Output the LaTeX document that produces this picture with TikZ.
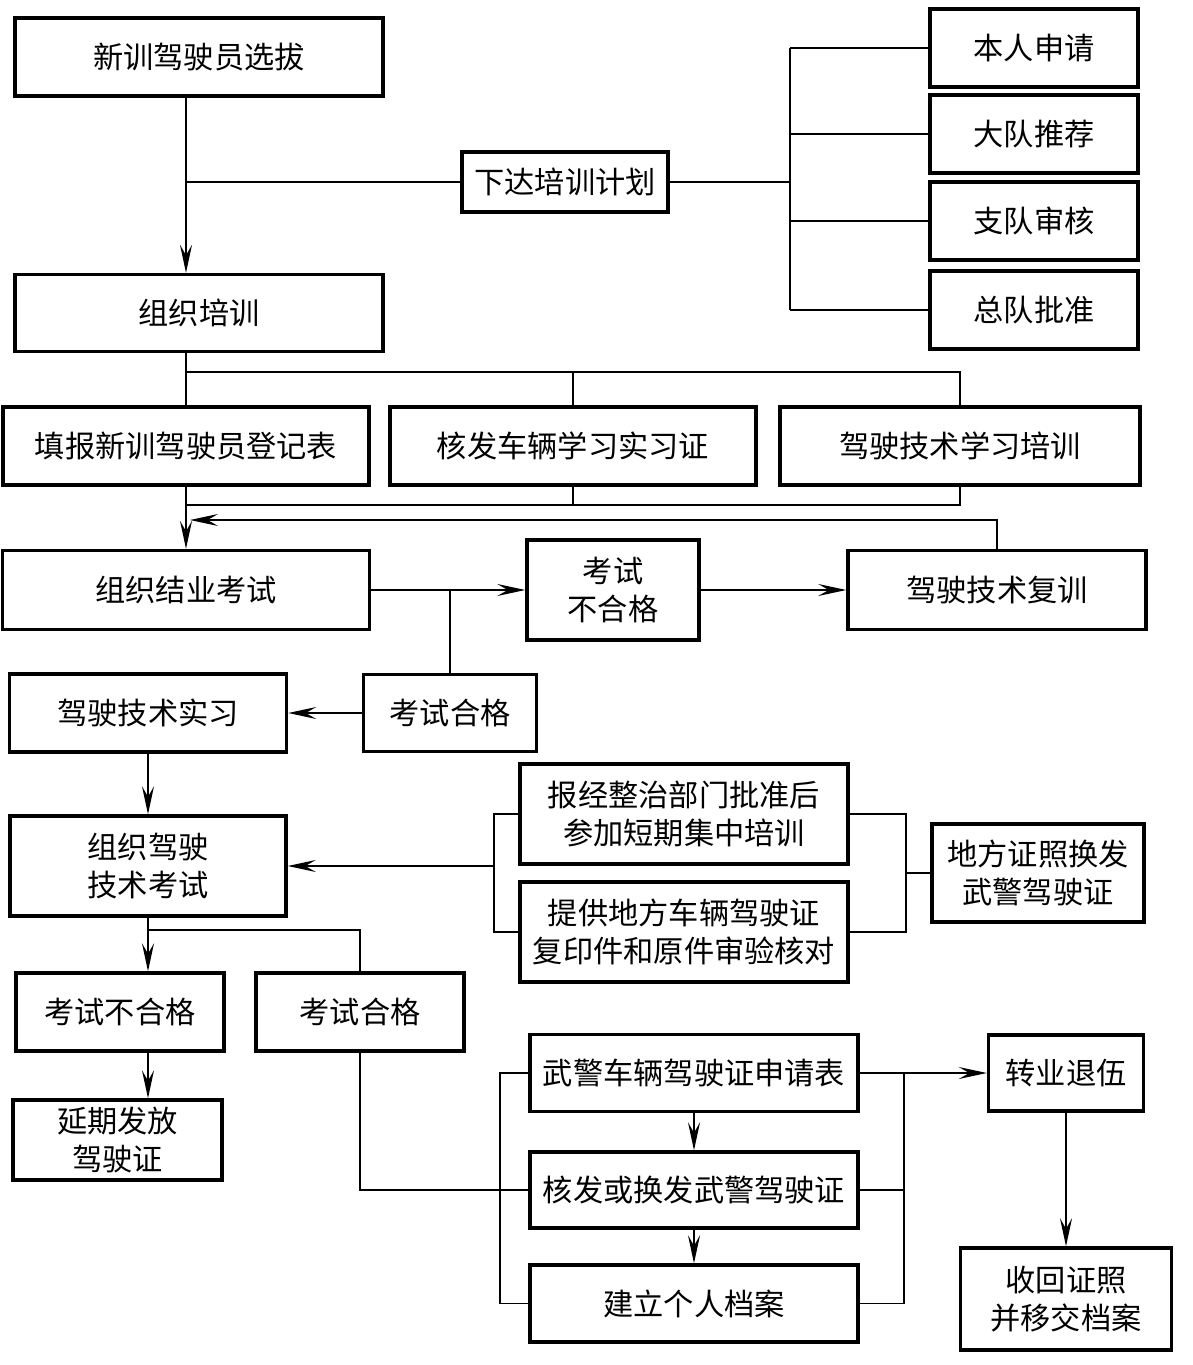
\documentclass[tikz,border=0pt]{standalone}
\usepackage{fontspec}
\newfontfamily\cjk{Noto Sans CJK SC}
\usetikzlibrary{arrows.meta}

\begin{document}
\begin{tikzpicture}
[x=0.025cm,y=-0.025cm,>={Stealth[length=7mm,width=3mm,inset=2.6mm]},
box/.style={draw,line width=2.4pt,inner sep=0pt,align=center,font=\cjk\fontsize{21.5}{26.5}\selectfont},
wire/.style={line width=1.2pt}]
\useasboundingbox (0,0) rectangle (1192,1365);
\draw (199,57) node[box,minimum width=9.2cm,minimum height=1.95cm] (sel) {新训驾驶员选拔};
\draw (565,182) node[box,minimum width=5.15cm,minimum height=1.5cm] (plan) {下达培训计划};
\draw (1034,48) node[box,minimum width=5.2cm,minimum height=1.95cm] (r1) {本人申请};
\draw (1034,134) node[box,minimum width=5.2cm,minimum height=1.95cm] (r2) {大队推荐};
\draw (1034,221) node[box,minimum width=5.2cm,minimum height=1.95cm] (r3) {支队审核};
\draw (1034,310) node[box,minimum width=5.2cm,minimum height=1.95cm] (r4) {总队批准};
\draw (199,313) node[box,minimum width=9.2cm,minimum height=1.925cm] (org) {组织培训};
\draw (186,446) node[box,minimum width=9.15cm,minimum height=1.95cm] (fill) {填报新训驾驶员登记表};
\draw (573,446) node[box,minimum width=9.15cm,minimum height=1.95cm] (card) {核发车辆学习实习证};
\draw (960,446) node[box,minimum width=9cm,minimum height=1.95cm] (train) {驾驶技术学习培训};
\draw (186,590) node[box,minimum width=9.175cm,minimum height=1.975cm] (exam) {组织结业考试};
\draw (613,590) node[box,minimum width=4.3cm,minimum height=2.5cm] (fail1) {考试\\不合格};
\draw (997,590) node[box,minimum width=7.45cm,minimum height=1.975cm] (retr) {驾驶技术复训};
\draw (450,713) node[box,minimum width=4.325cm,minimum height=1.925cm] (pass1) {考试合格};
\draw (148,713) node[box,minimum width=6.925cm,minimum height=1.95cm] (prac) {驾驶技术实习};
\draw (148,866) node[box,minimum width=6.9cm,minimum height=2.5cm] (test) {组织驾驶\\技术考试};
\draw (684,814) node[box,minimum width=8.2cm,minimum height=2.5cm] (short) {报经整治部门批准后\\参加短期集中培训};
\draw (684,932) node[box,minimum width=8.2cm,minimum height=2.5cm] (copy) {提供地方车辆驾驶证\\复印件和原件审验核对};
\draw (1038,873) node[box,minimum width=5.3cm,minimum height=2.45cm] (local) {地方证照换发\\武警驾驶证};
\draw (120,1012) node[box,minimum width=5.2cm,minimum height=1.95cm] (fail2) {考试不合格};
\draw (360,1012) node[box,minimum width=5.2cm,minimum height=1.95cm] (pass2) {考试合格};
\draw (117.5,1140) node[box,minimum width=5.225cm,minimum height=2cm] (delay) {延期发放\\驾驶证};
\draw (694,1073) node[box,minimum width=8.2cm,minimum height=1.925cm] (apply) {武警车辆驾驶证申请表};
\draw (694,1190) node[box,minimum width=8.2cm,minimum height=1.9cm] (issue) {核发或换发武警驾驶证};
\draw (694,1303.5) node[box,minimum width=8.2cm,minimum height=1.925cm] (file) {建立个人档案};
\draw (1066,1073) node[box,minimum width=3.875cm,minimum height=1.9cm] (quit) {转业退伍};
\draw (1066,1299) node[box,minimum width=5.275cm,minimum height=2.55cm] (recv) {收回证照\\并移交档案};
\coordinate (spine) at (186,0);
\coordinate (brk) at (790,182);
\coordinate (bus1) at (0,372);
\coordinate (bus2) at (0,505);
\coordinate (fb) at (190,520);
\coordinate (lb) at (494,866);
\coordinate (rb) at (906,873);
\coordinate (bus3) at (0,930);
\coordinate (lb2) at (500,0);
\coordinate (rb2) at (904,0);
\draw[wire,->](spine |- sel.south)--(spine |- org.north);
\draw[wire](plan.west)--(spine |- plan.west);
\draw[wire](plan.east)--(brk);
\draw[wire](brk |- r1.west)--(brk |- r4.west);
\foreach \n in {r1,r2,r3,r4} \draw[wire](\n.west)--(brk |- \n.west);
\draw[wire](spine |- org.south)--(fill.north);
\draw[wire](spine |- bus1)-|(train.north);
\draw[wire](card.north)--(card.north |- bus1);
\draw[wire](card.south)--(card.south |- bus2);
\draw[wire](train.south)|-(spine |- bus2);
\draw[wire,->](fill.south)--(exam.north);
\draw[wire,->](retr.north)|-(fb);
\draw[wire,->](exam.east)--(fail1.west);
\draw[wire](pass1.north)--(pass1.north |- exam.east);
\draw[wire,->](fail1.east)--(retr.west);
\draw[wire,->](pass1.west)--(prac.east);
\draw[wire,->](prac.south)--(test.north);
\draw[wire](short.west)-|(lb)|-(copy.west);
\draw[wire,->](lb)--(test.east);
\draw[wire](short.east)-|(rb)|-(copy.east);
\draw[wire](rb)--(local.west);
\draw[wire,->](test.south)--(test.south |- fail2.north);
\draw[wire](test.south |- bus3)-|(pass2.north);
\draw[wire,->](test.south |- fail2.south)--(test.south |- delay.north);
\draw[wire](pass2.south)|-(issue.west);
\draw[wire](apply.west)-|(lb2 |- file.west)--(file.west);
\draw[wire,->](apply.south)--(issue.north);
\draw[wire,->](issue.south)--(file.north);
\draw[wire,->](apply.east)--(quit.west);
\draw[wire](issue.east)--(rb2 |- issue.east);
\draw[wire](file.east)-|(rb2 |- apply.east);
\draw[wire,->](quit.south)--(recv.north);
\end{tikzpicture}
\end{document}
